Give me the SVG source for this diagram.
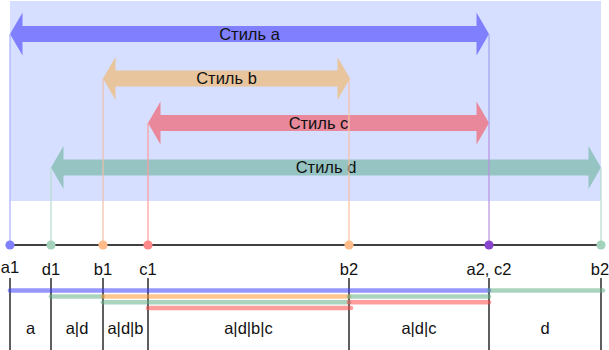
<svg xmlns="http://www.w3.org/2000/svg" width="609" height="350" viewBox="0 0 609 350">
  <style>
    text { font-family: "Liberation Sans", Arial, sans-serif; font-size: 16.5px; fill: #111; text-anchor: middle; }
    .guide { stroke-width: 1.2; fill: none; }
    .tick { stroke: #1a1a1a; stroke-width: 1.4; }
    .bar { stroke-width: 4.6; stroke-linecap: round; stroke-opacity: 0.55; fill: none; }
  </style>

  <!-- span area -->
  <rect x="10" y="1" width="591" height="200" fill="#d6dfff"/>

  <!-- style spans as double-headed arrows -->
  <g id="style-a">
    <path d="M10,34 L22.5,12.5 L22.5,26 L476.5,26 L476.5,12.5 L489,34 L476.5,55.5 L476.5,42 L22.5,42 L22.5,55.5 Z" fill="#8080ff"/>
    <text x="249.5" y="39.5">Стиль a</text>
  </g>
  <g id="style-b">
    <path d="M103,78.5 L115.5,57 L115.5,70.5 L337.5,70.5 L337.5,57 L350,78.5 L337.5,100 L337.5,86.5 L115.5,86.5 L115.5,100 Z" fill="#e8c59c"/>
    <text x="226.5" y="84">Стиль b</text>
  </g>
  <g id="style-c">
    <path d="M148,123 L160.5,101.5 L160.5,115 L476.5,115 L476.5,101.5 L489,123 L476.5,144.5 L476.5,131 L160.5,131 L160.5,144.5 Z" fill="#e8889a"/>
    <text x="318.5" y="128.5">Стиль c</text>
  </g>
  <g id="style-d">
    <path d="M51,167.5 L63.5,146 L63.5,159.5 L588.5,159.5 L588.5,146 L601,167.5 L588.5,189 L588.5,175.5 L63.5,175.5 L63.5,189 Z" fill="#96c4c2"/>
    <text x="326" y="172.8">Стиль d</text>
  </g>

  <!-- guides from arrow ends down to the axis -->
  <g id="guides">
    <line class="guide" x1="10" y1="34" x2="10" y2="245" stroke="#a8b0ff"/>
    <line class="guide" x1="51" y1="167.5" x2="51" y2="245" stroke="#b8dccb"/>
    <line class="guide" x1="103" y1="78.5" x2="103" y2="245" stroke="#f0c0a8"/>
    <line class="guide" x1="148" y1="123" x2="148" y2="245" stroke="#ff9a9a"/>
    <line class="guide" x1="349" y1="78.5" x2="349" y2="245" stroke="#f8c0a0"/>
    <line class="guide" x1="489" y1="34" x2="489" y2="123" stroke="#a0a0f0"/>
    <line class="guide" x1="489" y1="123" x2="489" y2="245" stroke="#b890e0"/>
    <line class="guide" x1="601" y1="167.5" x2="601" y2="245" stroke="#b8dccb"/>
  </g>

  <!-- axis -->
  <g id="axis">
    <line x1="10" y1="245" x2="601" y2="245" stroke="#000" stroke-width="1.5"/>
    <circle cx="10" cy="245" r="4.6" fill="#8080ff"/>
    <circle cx="51" cy="245" r="4.6" fill="#a3d2bb"/>
    <circle cx="103" cy="245" r="4.6" fill="#ffbb88"/>
    <circle cx="148" cy="245" r="4.6" fill="#ff8888"/>
    <circle cx="349" cy="245" r="4.6" fill="#ffbb88"/>
    <circle cx="489" cy="245" r="4.6" fill="#8844cc"/>
    <circle cx="601" cy="245" r="4.6" fill="#a3d2bb"/>
  </g>

  <!-- point labels -->
  <g id="point-labels">
    <text x="10" y="273">a1</text>
    <text x="51" y="275">d1</text>
    <text x="103" y="275">b1</text>
    <text x="148" y="275">c1</text>
    <text x="349" y="275">b2</text>
    <text x="489" y="275">a2, c2</text>
    <text x="600" y="275">b2</text>
  </g>

  <!-- segment boundaries -->
  <g id="ticks">
    <line class="tick" x1="10" y1="278" x2="10" y2="350"/>
    <line class="tick" x1="51" y1="278" x2="51" y2="350"/>
    <line class="tick" x1="103" y1="278" x2="103" y2="350"/>
    <line class="tick" x1="148" y1="278" x2="148" y2="350"/>
    <line class="tick" x1="349" y1="278" x2="349" y2="350"/>
    <line class="tick" x1="489" y1="278" x2="489" y2="350"/>
    <line class="tick" x1="601" y1="278" x2="601" y2="350"/>
  </g>

  <!-- active styles per segment -->
  <g id="segment-bars">
    <line class="bar" x1="10" y1="290.5" x2="489" y2="290.5" stroke="#4040ff"/>
    <line class="bar" x1="489" y1="290.5" x2="603" y2="290.5" stroke="#66b08a"/>
    <line class="bar" x1="51" y1="296.5" x2="103" y2="296.5" stroke="#66b08a"/>
    <line class="bar" x1="103" y1="296.5" x2="349" y2="296.5" stroke="#ff9933"/>
    <line class="bar" x1="349" y1="296.5" x2="489" y2="296.5" stroke="#66b08a"/>
    <line class="bar" x1="103" y1="302.3" x2="349" y2="302.3" stroke="#66b08a"/>
    <line class="bar" x1="349" y1="302.3" x2="489" y2="302.3" stroke="#ff4d4d"/>
    <line class="bar" x1="148" y1="308" x2="351" y2="308" stroke="#ff4d4d"/>
  </g>

  <!-- segment labels -->
  <g id="segment-labels">
    <text x="30.5" y="334">a</text>
    <text x="77" y="334">a|d</text>
    <text x="125.5" y="334">a|d|b</text>
    <text x="248.5" y="334">a|d|b|c</text>
    <text x="419" y="334">a|d|c</text>
    <text x="545" y="334">d</text>
  </g>
</svg>
